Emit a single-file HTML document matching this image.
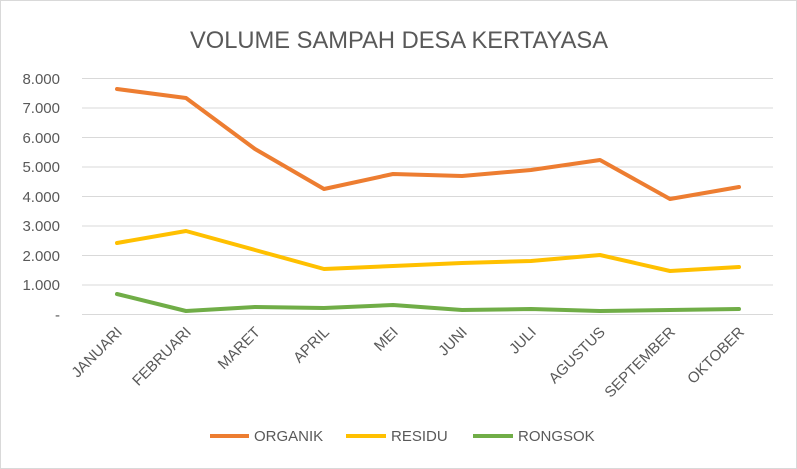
<!DOCTYPE html>
<html><head><meta charset="utf-8"><style>
body{margin:0;background:#fff;}
svg{display:block;font-family:"Liberation Sans",sans-serif;}
</style></head><body>
<svg width="797" height="469" viewBox="0 0 797 469">
<rect x="0.5" y="0.5" width="796" height="468" fill="#fff" stroke="#d9d9d9"/>
<text x="399" y="48" text-anchor="middle" font-size="24" fill="#595959" textLength="418" lengthAdjust="spacingAndGlyphs">VOLUME SAMPAH DESA KERTAYASA</text>
<g stroke="#d9d9d9" stroke-width="1">
<line x1="82" x2="773" y1="78.5" y2="78.5"/>
<line x1="82" x2="773" y1="108" y2="108"/>
<line x1="82" x2="773" y1="137.5" y2="137.5"/>
<line x1="82" x2="773" y1="167" y2="167"/>
<line x1="82" x2="773" y1="196.5" y2="196.5"/>
<line x1="82" x2="773" y1="226" y2="226"/>
<line x1="82" x2="773" y1="255.5" y2="255.5"/>
<line x1="82" x2="773" y1="285" y2="285"/>
<line x1="82" x2="773" y1="314.5" y2="314.5"/>
</g>
<g font-size="15" fill="#595959" text-anchor="end">
<text x="60" y="84">8.000</text>
<text x="60" y="113">7.000</text>
<text x="60" y="143">6.000</text>
<text x="60" y="172">5.000</text>
<text x="60" y="202">4.000</text>
<text x="60" y="231">3.000</text>
<text x="60" y="261">2.000</text>
<text x="60" y="290">1.000</text>
<text x="60" y="320">-</text>
</g>
<g fill="none" stroke-width="4" stroke-linejoin="round" stroke-linecap="round">
<polyline stroke="#ed7d31" points="117,89 186,98 255,149 324,189 393,174 462,176 531,170 600,160 670,199 739,187"/>
<polyline stroke="#ffc000" points="117,243 186,231 255,250 324,269 393,266 462,263 531,261 600,255 670,271 739,267"/>
<polyline stroke="#70ad47" points="117,294 186,311 255,307 324,308 393,305 462,310 531,309 600,311 670,310 739,309"/>
</g>
<g font-size="15" fill="#595959" text-anchor="end">
<text transform="translate(123,333) rotate(-45)">JANUARI</text>
<text transform="translate(192,333) rotate(-45)">FEBRUARI</text>
<text transform="translate(261,333) rotate(-45)">MARET</text>
<text transform="translate(330,333) rotate(-45)">APRIL</text>
<text transform="translate(399,333) rotate(-45)">MEI</text>
<text transform="translate(468,333) rotate(-45)">JUNI</text>
<text transform="translate(537,333) rotate(-45)">JULI</text>
<text transform="translate(606,333) rotate(-45)">AGUSTUS</text>
<text transform="translate(676,333) rotate(-45)">SEPTEMBER</text>
<text transform="translate(745,333) rotate(-45)">OKTOBER</text>
</g>
<g font-size="15" fill="#595959">
<line x1="210" x2="249" y1="436" y2="436" stroke="#ed7d31" stroke-width="4"/>
<text x="254" y="441">ORGANIK</text>
<line x1="346" x2="386" y1="436" y2="436" stroke="#ffc000" stroke-width="4"/>
<text x="391" y="441">RESIDU</text>
<line x1="473" x2="513" y1="436" y2="436" stroke="#70ad47" stroke-width="4"/>
<text x="518" y="441">RONGSOK</text>
</g>
</svg>
</body></html>
